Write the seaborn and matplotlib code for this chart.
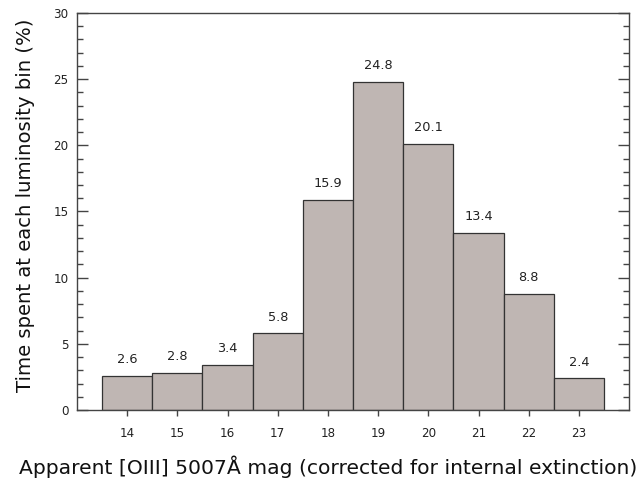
import matplotlib
matplotlib.use("Agg")
import matplotlib.pyplot as plt
import seaborn as sns
import pandas as pd
from matplotlib.ticker import MultipleLocator

mags = [14, 15, 16, 17, 18, 19, 20, 21, 22, 23]
percent = [2.6, 2.8, 3.4, 5.8, 15.9, 24.8, 20.1, 13.4, 8.8, 2.4]
labels = ["2.6", "2.8", "3.4", "5.8", "15.9", "24.8", "20.1", "13.4", "8.8", "2.4"]

sns.set_style("white")
plt.rcParams['font.family'] = ['DejaVu Sans']

df = pd.DataFrame({"mag": mags, "pct": percent})

fig = plt.figure(figsize=(6.4, 4.78), dpi=100)
ax = fig.add_axes([0.1203, 0.1423, 0.983 - 0.1203, 0.9728 - 0.1423])

sns.barplot(data=df, x="mag", y="pct", native_scale=True, width=1.0,
            color="#bfb6b3", saturation=1, edgecolor="#333333", linewidth=0.9, ax=ax)

for m, v, t in zip(mags, percent, labels):
    ax.annotate(t, (m, v), xytext=(0, 7), textcoords="offset points",
                ha="center", va="bottom", fontsize=9.3, color="#222222")

ax.set_xlim(13, 24)
ax.set_ylim(0, 30)
ax.set_xticks(mags)
ax.set_xticklabels([str(m) for m in mags])
ax.yaxis.set_major_locator(MultipleLocator(5))
ax.yaxis.set_minor_locator(MultipleLocator(1))

for s in ax.spines.values():
    s.set_color("#444444")
    s.set_linewidth(1.0)

ax.tick_params(axis="y", which="major", direction="in", length=8, width=1.0,
               color="#444444", left=True, right=True, labelsize=8.6, pad=6, labelcolor="#222222")
ax.tick_params(axis="y", which="minor", direction="in", length=4, width=1.0,
               color="#444444", left=True, right=True)
ax.tick_params(axis="x", which="major", direction="out", length=4, width=1.0,
               color="#444444", bottom=True, top=False, labelsize=8.6, pad=8, labelcolor="#222222")

ax.set_xlabel("Apparent [OIII] 5007Å mag (corrected for internal extinction)",
              fontsize=14.6, color="#111111", labelpad=11)
ax.xaxis.set_label_coords(0.455, -0.115)
ax.xaxis.label.set_va("top")
ax.set_ylabel("Time spent at each luminosity bin (%)", fontsize=14.1, color="#111111", labelpad=12)
ax.yaxis.set_label_coords(-0.076, 0.516)

fig.savefig("out.png", dpi=100)
